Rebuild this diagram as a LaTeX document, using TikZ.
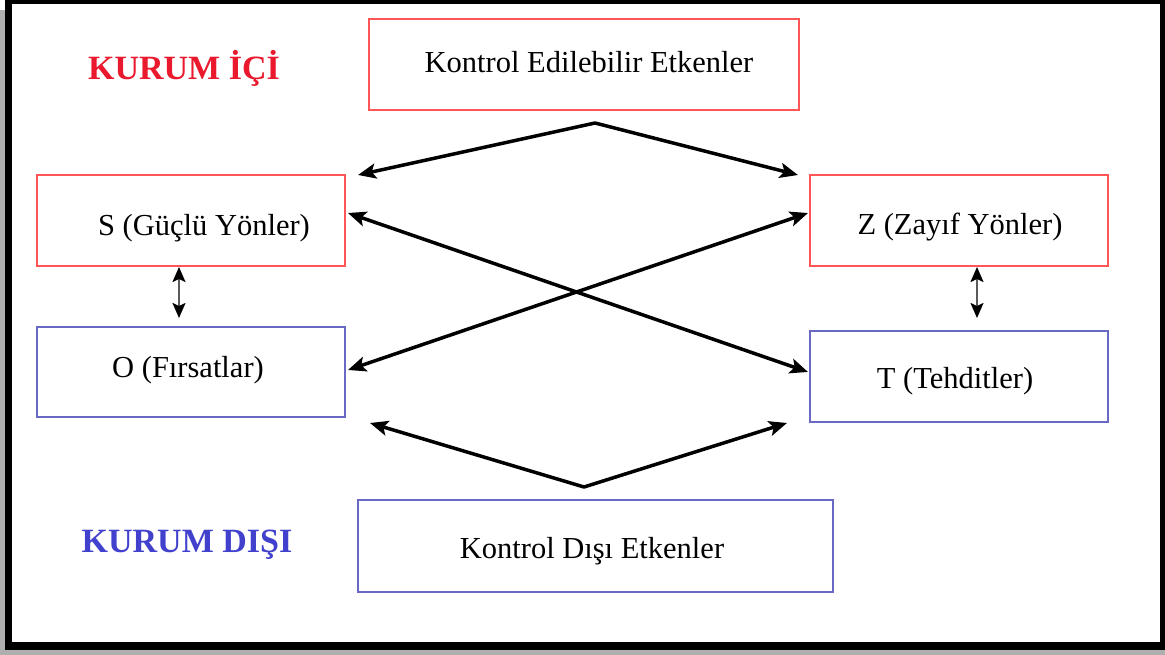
\documentclass[tikz,border=0pt]{standalone}
\usepackage{fontspec}
\setmainfont{Liberation Serif}
\usetikzlibrary{arrows.meta}
\definecolor{boxred}{RGB}{255,85,85}
\definecolor{boxblue}{RGB}{105,105,195}
\definecolor{lblred}{RGB}{235,25,45}
\definecolor{lblblue}{RGB}{65,65,205}
\definecolor{shadowgray}{RGB}{175,175,175}
\definecolor{thingray}{RGB}{90,90,90}
\begin{document}
\begin{tikzpicture}[x=1pt,y=-1pt,
  box/.style={draw=#1, line width=2pt, inner sep=0pt},
  boxtxt/.style={anchor=base, inner sep=0pt, font=\fontsize{30.5}{36}\selectfont},
  lbl/.style={anchor=base, inner sep=0pt, text=#1, font=\fontsize{34}{40}\selectfont\bfseries},
  bigarrow/.style={line width=3.5pt, line join=round,
    arrows={Stealth[length=18pt,width=15pt,inset=4pt]-Stealth[length=18pt,width=15pt,inset=4pt]}},
  smallarrow/.style={draw=thingray, line width=2pt,
    arrows={Stealth[length=15pt,width=13pt,inset=3pt,fill=black,color=black]-Stealth[length=15pt,width=13pt,inset=3pt,fill=black,color=black]}}]
\useasboundingbox (0,0) rectangle (1165,655);
% frame with shadow
\fill[shadowgray] (0,10) rectangle (1165,655);
\fill[black] (5,0) rectangle (1165,650);
\fill[white] (12,4) rectangle (1160,642);

% boxes
\node[box=boxred, minimum width=430, minimum height=91] (K1) at (584,64.5) {};
\node[box=boxred, minimum width=308, minimum height=91] (S) at (191,220.5) {};
\node[box=boxred, minimum width=298, minimum height=91] (Z) at (959,220.5) {};
\node[box=boxblue, minimum width=308, minimum height=90] (O) at (191,372) {};
\node[box=boxblue, minimum width=298, minimum height=91] (T) at (959,376.5) {};
\node[box=boxblue, minimum width=475, minimum height=92] (K2) at (595.5,546) {};

% box texts
\node[boxtxt] (K1t) at (589,73) {Kontrol Edilebilir Etkenler};
\node[boxtxt] (St) at (204,236) {S (Güçlü Yönler)};
\node[boxtxt] (Zt) at (960,235) {Z (Zayıf Yönler)};
\node[boxtxt] (Ot) at (188,377) {O (Fırsatlar)};
\node[boxtxt] (Tt) at (955,388) {T (Tehditler)};
\node[boxtxt] (K2t) at (592,558) {Kontrol Dışı Etkenler};

% side labels
\node[lbl=lblred] (ici) at (184,80) {KURUM İÇİ};
\node[lbl=lblblue] (disi) at (187,552) {KURUM DIŞI};

% connector points
\coordinate (topL) at (358,175);
\coordinate (topA) at (595,123);
\coordinate (topR) at (798,175);
\coordinate (botL) at (370,423);
\coordinate (botA) at (584,487);
\coordinate (botR) at (787,423);
\coordinate (Sx) at (348,213);
\coordinate (Tx) at (808,372);
\coordinate (Ox) at (348,370);
\coordinate (Zx) at (808,213);
\coordinate (SOa) at (179,267);
\coordinate (SOb) at (179,318);
\coordinate (ZTa) at (977,267);
\coordinate (ZTb) at (977,318);

% arrows
\draw[bigarrow] (topL) -- (topA) -- (topR);
\draw[bigarrow] (botL) -- (botA) -- (botR);
\draw[bigarrow] (Sx) -- (Tx);
\draw[bigarrow] (Ox) -- (Zx);
\draw[smallarrow] (SOa) -- (SOb);
\draw[smallarrow] (ZTa) -- (ZTb);
\end{tikzpicture}
\end{document}
